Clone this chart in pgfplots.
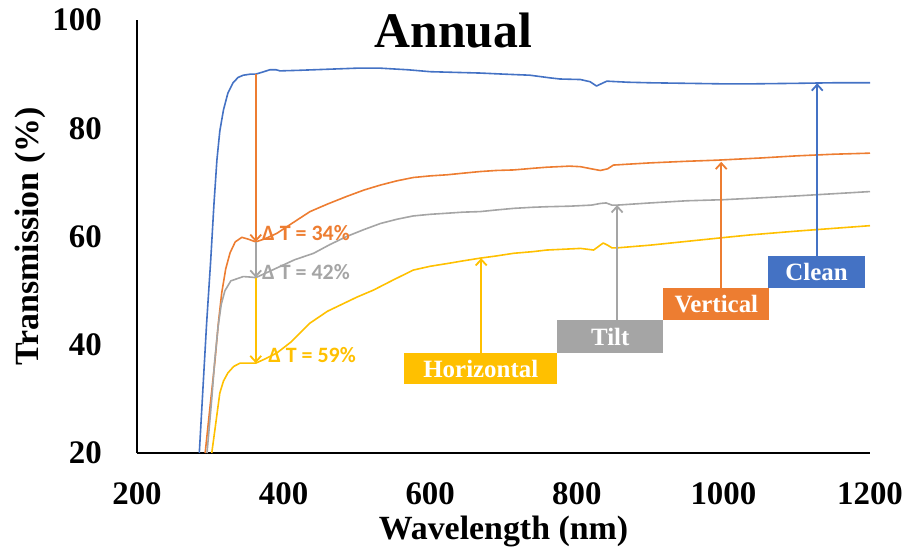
\documentclass[border=0pt]{standalone}
\usepackage{pgfplots}
\pgfplotsset{compat=1.18}
\usepackage{fontspec}
\setmainfont{Liberation Serif}
\newfontfamily\calibri{Carlito}
\usetikzlibrary{arrows.meta}
\definecolor{cblue}{HTML}{4472C4}
\definecolor{corange}{HTML}{ED7D31}
\definecolor{cgray}{HTML}{A5A5A5}
\definecolor{cyellow}{HTML}{FFC000}
\begin{document}
\begin{tikzpicture}
\begin{axis}[
  at={(0,0)}, anchor=south west, scale only axis,
  width=733bp, height=433bp,
  xmin=200, xmax=1200, ymin=20, ymax=100,
  axis x line*=bottom, axis y line*=left,
  axis line style={-, line width=1.2bp, black},
  xtick={200,400,...,1200}, ytick={20,40,...,100},
  major tick length=0pt,
  /pgf/number format/assume math mode=true,
  /pgf/number format/1000 sep={},
  tick label style={font=\bfseries\fontsize{33}{33}\selectfont, inner sep=0pt},
  xticklabel style={anchor=north, yshift=-29bp},
  yticklabel style={anchor=east, xshift=-35bp},
  xlabel={Wavelength (nm)},
  xlabel style={at={(axis description cs:0.5,-0.1455)}, anchor=north, inner sep=0pt,
    font=\bfseries\fontsize{34}{34}\selectfont},
  ylabel={Transmission (\%)},
  ylabel style={at={(axis description cs:-0.1241,0.5)}, anchor=south, rotate=0, inner sep=0pt,
    font=\bfseries\fontsize{34}{34}\selectfont},
  title={Annual},
  title style={at={(axis description cs:0.4318,0.922)}, anchor=base, inner sep=0pt,
    font=\bfseries\fontsize{50}{50}\selectfont},
  every axis plot/.append style={line width=1.6bp, line join=round},
]
% Clean
\addplot[cblue] coordinates {
(285,20) (290,32) (295,44) (300.6,55.7) (305,66) (309,74.1) (313,79.5) (318,83.4)
(324,86.5) (331,88.4) (338,89.4) (345,89.8) (355,90) (362,90) (372,90.4) (381,90.8)
(390,90.8) (395,90.6) (420,90.7) (460,90.9) (500,91.1) (532,91.1) (570,90.8) (600,90.45)
(640,90.3) (668,90.2) (700,90.0) (736,89.8) (764,89.3) (777,89.1) (805,89.0) (818,88.6)
(827,87.8) (833,88.2) (841,88.7) (870,88.5) (900,88.4) (950,88.3) (1000,88.2) (1037,88.2)
(1100,88.3) (1150,88.4) (1200,88.4)
};
% Vertical
\addplot[corange] coordinates {
(293,20) (300,29) (306.5,37.2) (311,44) (315.6,49.6) (321,54) (327,57) (334,59)
(343,59.85) (352,59.5) (362,59.0) (375,59.6) (391,60.6) (410,62.3) (436,64.6) (460,66)
(486,67.4) (510,68.6) (532,69.5) (555,70.3) (577,70.9) (600,71.2) (623,71.4) (645,71.7)
(668,72.0) (690,72.2) (714,72.3) (740,72.6) (759,72.8) (790,73.0) (805,72.9) (820,72.5)
(832,72.2) (842,72.5) (850,73.2) (900,73.6) (950,73.9) (991,74.1) (1050,74.5) (1100,74.9)
(1150,75.2) (1200,75.4)
};
% Tilt
\addplot[cgray] coordinates {
(295.5,20) (302,30) (306,37) (310.6,43.3) (315,47.5) (320,50) (328,51.8) (345,52.6)
(355,52.5) (362,52.4) (375,53.2) (391,54.2) (415,55.7) (441,56.9) (463,58.5) (486,60)
(510,61.3) (532,62.4) (555,63.2) (577,63.8) (600,64.1) (623,64.3) (645,64.5) (668,64.6)
(690,64.9) (714,65.2) (740,65.4) (759,65.5) (790,65.6) (805,65.7) (820,65.8) (832,66.1)
(840,66.2) (848,65.8) (855,65.8) (900,66.2) (950,66.6) (1000,66.8) (1037,67.05) (1100,67.5)
(1150,67.9) (1200,68.3)
};
% Horizontal
\addplot[cyellow] coordinates {
(302,20) (307,25) (313,31.1) (318,33.3) (324,34.8) (332,36.0) (340.6,36.6) (350,36.6)
(362,36.6) (375,37.4) (391,38.5) (410,40.5) (436,44) (460,46.2) (480,47.5) (500,48.8)
(522.6,50.1) (550,52.0) (577,53.8) (600,54.5) (623,55.0) (645,55.5) (668,56.0) (690,56.4)
(714,56.9) (740,57.2) (759,57.5) (790,57.7) (805,57.8) (823,57.5) (830,58.2) (836,58.8)
(842,58.4) (848,57.9) (855,57.9) (900,58.4) (950,59.1) (1000,59.8) (1037,60.3) (1100,61.0)
(1150,61.5) (1200,62.0)
};
% down arrows
\draw[corange, line width=1.8bp, -{Straight Barb[length=6bp,width=11bp]}] (axis cs:362,90) -- (axis cs:362,59.0);
\draw[cgray, line width=1.8bp, -{Straight Barb[length=6bp,width=11bp]}] (axis cs:362,59.0) -- (axis cs:362,52.4);
\draw[cyellow, line width=1.8bp, -{Straight Barb[length=6bp,width=11bp]}] (axis cs:362,52.4) -- (axis cs:362,36.6);
\node[anchor=west, inner sep=0pt, text=corange, font=\calibri\bfseries\fontsize{22}{22}\selectfont] at (axis cs:370.6,60.65) {Δ T = 34\%};
\node[anchor=west, inner sep=0pt, text=cgray, font=\calibri\bfseries\fontsize{22}{22}\selectfont] at (axis cs:370.6,53.44) {Δ T = 42\%};
\node[anchor=west, inner sep=0pt, text=cyellow, font=\calibri\bfseries\fontsize{22}{22}\selectfont] at (axis cs:378.8,38.1) {Δ T = 59\%};
% up arrows
\draw[cyellow, line width=1.8bp, -{Straight Barb[length=6bp,width=11bp]}] (axis cs:669.6,38.5) -- (axis cs:669.6,56.0);
\draw[cgray, line width=1.8bp, -{Straight Barb[length=6bp,width=11bp]}] (axis cs:855,44.57) -- (axis cs:855,65.8);
\draw[corange, line width=1.8bp, -{Straight Barb[length=6bp,width=11bp]}] (axis cs:997,50.5) -- (axis cs:997,73.8);
\draw[cblue, line width=1.8bp, -{Straight Barb[length=6bp,width=11bp]}] (axis cs:1128,56.4) -- (axis cs:1128,88.3);
% boxes
\fill[cyellow] (axis cs:564.5,32.75) rectangle (axis cs:773.4,38.5);
\fill[cgray] (axis cs:773.4,38.5) rectangle (axis cs:918.1,44.57);
\fill[corange] (axis cs:918.1,44.57) rectangle (axis cs:1062.8,50.5);
\fill[cblue] (axis cs:1061.4,50.5) rectangle (axis cs:1192.5,56.4);
\node[text=white, font=\bfseries\fontsize{25}{25}\selectfont] at (axis cs:669,35.6) {Horizontal};
\node[text=white, font=\bfseries\fontsize{25}{25}\selectfont] at (axis cs:845.7,41.5) {Tilt};
\node[text=white, font=\bfseries\fontsize{25}{25}\selectfont] at (axis cs:990.4,47.5) {Vertical};
\node[text=white, font=\bfseries\fontsize{25}{25}\selectfont] at (axis cs:1127,53.4) {Clean};
\end{axis}
\pgfresetboundingbox
\path[use as bounding box] (-137bp,-97bp) rectangle (768bp,453bp);
\end{tikzpicture}
\end{document}
